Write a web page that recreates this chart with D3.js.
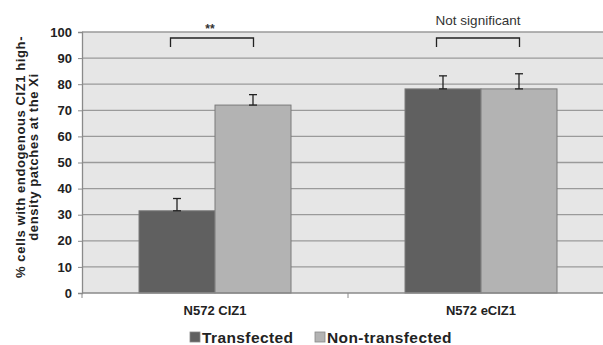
<!DOCTYPE html>
<html>
<head>
<meta charset="utf-8">
<script src="https://cdn.jsdelivr.net/npm/d3@7"></script>
<style>
  body { margin: 0; background: #fff; }
  svg { display: block; font-family: Arial, "Liberation Sans", sans-serif; }
</style>
</head>
<body>
<div id="chart"></div>
<script>
var categories = ["N572 CIZ1", "N572 eCIZ1"];
var seriesNames = ["Transfected", "Non-transfected"];
var transfected = [31.5, 78.2];
var nonTransfected = [72, 78.2];
var errTransfected = [4.7, 5];
var errNonTransfected = [4, 5.8];
var yTicks = [0, 10, 20, 30, 40, 50, 60, 70, 80, 90, 100];
var signif = ["**", "Not significant"];

var colors = ["#606060", "#b3b3b3"];

var svgWidth = 603;
var svgHeight = 345;
var margin = { top: 32, left: 82 };
var width = 532;   // plot runs past the right edge, as in the original
var height = 261;

var svg = d3.select("#chart").append("svg")
    .attr("width", svgWidth)
    .attr("height", svgHeight);

var chartGroup = svg.append("g")
    .attr("transform", `translate(${margin.left}, ${margin.top})`);

var x0 = d3.scaleBand().domain(categories).range([0, width]).paddingInner(0).paddingOuter(0);
var x1 = d3.scaleBand().domain(seriesNames).range([0, 152]);
var y = d3.scaleLinear().domain([0, 100]).range([height, 0]);

// plot background
chartGroup.append("rect")
    .attr("x", 0).attr("y", 0)
    .attr("width", width).attr("height", height)
    .attr("fill", "#e6e6e6");

// gridlines
chartGroup.selectAll(".grid")
    .data(yTicks.filter(d => d > 0))
    .enter().append("line")
    .attr("x1", 0).attr("x2", width)
    .attr("y1", d => y(d)).attr("y2", d => y(d))
    .attr("stroke", "#9a9a9a").attr("stroke-width", 1.3);

var data = categories.map((c, i) => ({
    cat: c,
    vals: [
        { s: seriesNames[0], v: transfected[i], e: errTransfected[i], c: colors[0] },
        { s: seriesNames[1], v: nonTransfected[i], e: errNonTransfected[i], c: colors[1] }
    ]
}));

var groups = chartGroup.selectAll(".grp")
    .data(data)
    .enter().append("g")
    .attr("transform", d => `translate(${x0(d.cat) + (x0.bandwidth() - 152) / 2}, 0)`);

groups.selectAll("rect")
    .data(d => d.vals)
    .enter().append("rect")
    .attr("x", d => x1(d.s))
    .attr("y", d => y(d.v))
    .attr("width", x1.bandwidth())
    .attr("height", d => height - y(d.v))
    .attr("fill", d => d.c)
    .attr("stroke", "#7a7a7a").attr("stroke-width", 1);

// error bars (plus direction)
var eb = groups.selectAll(".eb")
    .data(d => d.vals)
    .enter().append("g")
    .attr("stroke", "#222").attr("stroke-width", 1.3);
eb.append("line")
    .attr("x1", d => x1(d.s) + x1.bandwidth() / 2).attr("x2", d => x1(d.s) + x1.bandwidth() / 2)
    .attr("y1", d => y(d.v)).attr("y2", d => y(d.v + d.e));
eb.append("line")
    .attr("x1", d => x1(d.s) + x1.bandwidth() / 2 - 4).attr("x2", d => x1(d.s) + x1.bandwidth() / 2 + 4)
    .attr("y1", d => y(d.v + d.e)).attr("y2", d => y(d.v + d.e));
eb.append("line")
    .attr("x1", d => x1(d.s) + x1.bandwidth() / 2 - 4).attr("x2", d => x1(d.s) + x1.bandwidth() / 2 + 4)
    .attr("y1", d => y(d.v)).attr("y2", d => y(d.v));

// significance brackets
var br = chartGroup.selectAll(".br")
    .data(categories)
    .enter().append("g")
    .attr("transform", d => `translate(${x0(d) + x0.bandwidth() / 2 - 3}, 0)`);
br.append("path")
    .attr("d", "M-41.5,15 V6 H41.5 V15")
    .attr("fill", "none").attr("stroke", "#222").attr("stroke-width", 1.3);
br.append("text")
    .attr("x", (d, i) => i === 0 ? -2 : 0)
    .attr("y", (d, i) => i === 0 ? 1 : -7)
    .attr("text-anchor", "middle")
    .attr("font-size", (d, i) => i === 0 ? "12px" : "13.5px")
    .attr("font-weight", (d, i) => i === 0 ? "bold" : "normal")
    .attr("fill", "#333")
    .text((d, i) => signif[i]);

// axes
var leftAxis = d3.axisLeft(y).tickValues(yTicks).tickSize(4).tickPadding(6);
var yAxis = chartGroup.append("g").call(leftAxis);
yAxis.select(".domain").attr("stroke", "#8a8a8a").attr("stroke-width", 1.3);
yAxis.selectAll(".tick line").attr("stroke", "#8a8a8a");
yAxis.selectAll("text")
    .attr("font-size", "13px").attr("font-weight", "bold").attr("fill", "#222");

chartGroup.append("line")
    .attr("x1", 0).attr("x2", width)
    .attr("y1", height).attr("y2", height)
    .attr("stroke", "#8a8a8a").attr("stroke-width", 1.3);
chartGroup.selectAll(".xtick")
    .data([0, x0.bandwidth(), width])
    .enter().append("line")
    .attr("x1", d => d).attr("x2", d => d)
    .attr("y1", height).attr("y2", height + 5)
    .attr("stroke", "#8a8a8a");

chartGroup.selectAll(".xlab")
    .data(categories)
    .enter().append("text")
    .attr("x", d => x0(d) + x0.bandwidth() / 2)
    .attr("y", height + 22)
    .attr("text-anchor", "middle")
    .attr("font-size", "13px").attr("font-weight", "bold").attr("fill", "#222")
    .text(d => d);

// y axis title
var yTitle = svg.append("text")
    .attr("transform", "translate(25, 157) rotate(-90)")
    .attr("text-anchor", "middle")
    .attr("font-size", "13px").attr("font-weight", "bold").attr("fill", "#222")
    .attr("letter-spacing", "0.6px");
yTitle.append("tspan").attr("x", 0).attr("y", 0).text("% cells with endogenous CIZ1 high-");
yTitle.append("tspan").attr("x", 0).attr("y", 13).text("density patches at the Xi");

// legend
var legendX = [190, 315];
var legend = svg.selectAll(".leg")
    .data(seriesNames)
    .enter().append("g")
    .attr("transform", (d, i) => `translate(${legendX[i]}, 332)`);
legend.append("rect")
    .attr("width", 10).attr("height", 10)
    .attr("fill", (d, i) => colors[i])
    .attr("stroke", "#888").attr("stroke-width", 0.8);
legend.append("text")
    .attr("x", 12).attr("y", 10.5)
    .attr("font-size", "15.5px").attr("font-weight", "bold").attr("fill", "#222")
    .attr("letter-spacing", "0.4px")
    .text(d => d);
</script>
</body>
</html>
